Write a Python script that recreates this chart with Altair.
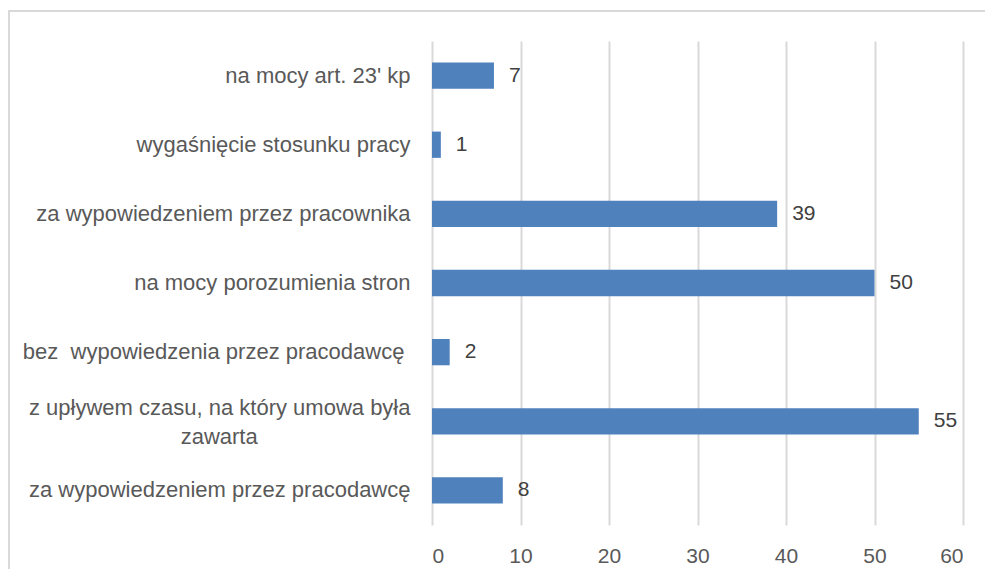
import altair as alt
import pandas as pd

categories = [
    "na mocy art. 23' kp",
    "wygaśnięcie stosunku pracy",
    "za wypowiedzeniem przez pracownika",
    "na mocy porozumienia stron",
    "bez\u00a0 wypowiedzenia przez pracodawcę\u00a0\u200b",
    "z upływem czasu, na który umowa była|zawarta" + "\u00a0" * 25 + "\u200b",
    "za wypowiedzeniem przez pracodawcę",
]
values = [7, 1, 39, 50, 2, 55, 8]
x_ticks = [0, 10, 20, 30, 40, 50, 60]

df = pd.DataFrame({"cat": categories, "val": values})

FONT = "Liberation Sans"
W, H = 531, 484

y_enc = alt.Y(
    "cat:N",
    sort=None,
    scale=alt.Scale(paddingInner=0.62, paddingOuter=0.31),
    axis=alt.Axis(
        title=None,
        ticks=False,
        domain=False,
        labelFont=FONT,
        labelFontSize=22,
        labelColor="#595959",
        labelPadding=22,
        labelLimit=500,
        labelLineHeight=29,
        labelExpr="split(datum.label, '|')",
        labelOffset={
            "condition": {"test": "indexof(datum.value, '|') >= 0", "value": -13},
            "value": 0,
        },
    ),
)
x_enc = alt.X(
    "val:Q",
    scale=alt.Scale(domain=[0, 60], nice=False),
    axis=alt.Axis(
        title=None,
        values=x_ticks,
        ticks=False,
        domain=False,
        grid=True,
        gridColor="#d9d9d9",
        gridWidth=2,
        labelFont=FONT,
        labelFontSize=21,
        labelColor="#595959",
        labelPadding=20,
    ),
)

bars = alt.Chart(df).mark_bar(color="#4f81bd").encode(x=x_enc, y=y_enc)
texts = alt.Chart(df).mark_text(
    align="left", baseline="middle", dx=15, font=FONT, fontSize=21, color="#404040"
).encode(x="val:Q", y=alt.Y("cat:N", sort=None), text="val:Q")

border = alt.Chart(pd.DataFrame({"a": [0]})).mark_rect(
    fill="transparent", stroke="#d9d9d9", strokeWidth=2, clip=False
).encode(
    x=alt.value(-423), x2=alt.value(W + 60), y=alt.value(-30), y2=alt.value(H + 80)
)

chart = (
    alt.layer(border, bars, texts)
    .properties(
        width=W,
        height=H,
        autosize=alt.AutoSizeParams(type="none"),
        padding={"left": 424, "top": 33, "right": 22, "bottom": 44},
        background="white",
    )
    .configure_view(stroke=None)
)

chart.save("out.html", embed_options={"renderer": "svg", "actions": False})
